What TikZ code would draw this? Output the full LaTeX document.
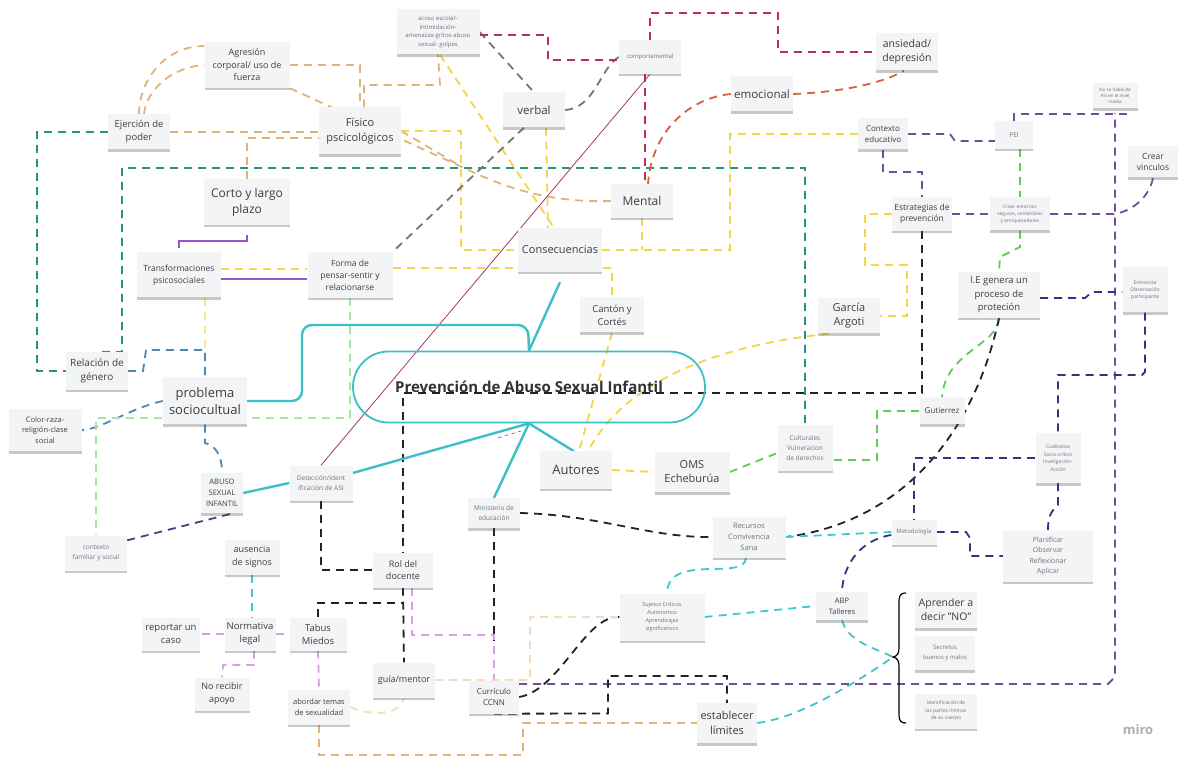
\documentclass[tikz,border=0pt]{standalone}
\usepackage{fontspec}
\setmainfont{Open Sans}
\usetikzlibrary{shadows}
\pgfdeclarelayer{back}
\pgfdeclarelayer{bgl}
\pgfsetlayers{back,bgl,main}
\definecolor{notefill}{RGB}{243,244,246}
\definecolor{txtc}{RGB}{62,62,66}
\definecolor{txtl}{RGB}{115,115,120}
\definecolor{tanC}{RGB}{224,180,120}
\definecolor{tealC}{RGB}{40,148,128}
\definecolor{grayC}{RGB}{118,118,118}
\definecolor{crimC}{RGB}{185,45,95}
\definecolor{orC}{RGB}{214,98,62}
\definecolor{yelC}{RGB}{242,214,70}
\definecolor{yelP}{RGB}{245,232,140}
\definecolor{purC}{RGB}{112,78,152}
\definecolor{grnC}{RGB}{95,205,85}
\definecolor{navC}{RGB}{42,55,130}
\definecolor{blkC}{RGB}{35,35,35}
\definecolor{cyaC}{RGB}{62,200,205}
\definecolor{stbC}{RGB}{72,138,180}
\definecolor{pgrC}{RGB}{165,228,165}
\definecolor{lilC}{RGB}{212,160,225}
\definecolor{pchC}{RGB}{246,218,190}
\definecolor{solpC}{RGB}{150,85,205}
\definecolor{brC}{RGB}{58,192,198}
\definecolor{thinC}{RGB}{165,55,100}
\definecolor{slateC}{RGB}{65,65,125}
\definecolor{titC}{RGB}{50,50,55}
\newcommand\fs[2]{\fontsize{#1}{#2}\selectfont}
\begin{document}
\begin{tikzpicture}[x=1pt,y=-1pt,
 stk/.style={fill=notefill, drop shadow={shadow xshift=0pt,shadow yshift=-2.5pt,opacity=0.3,fill=black!70}, align=center, inner sep=1pt, text=txtc},
 sz/.style 2 args={minimum width=#1, minimum height=#2},
 lt/.style={text=txtl},
 dsh/.style={dash pattern=on 8pt off 6pt, line width=1.8pt},
 tanD/.style={dsh, draw=tanC},
 yelD/.style={dsh, draw=yelC},
 yelPD/.style={dsh, draw=yelP},
 tealD/.style={dsh, draw=tealC},
 grayD/.style={dsh, draw=grayC},
 crimD/.style={dsh, draw=crimC},
 orD/.style={dsh, draw=orC},
 purD/.style={dsh, draw=purC},
 grnD/.style={dsh, draw=grnC},
 navD/.style={dsh, draw=navC},
 blkD/.style={dsh, draw=blkC},
 cyaD/.style={dsh, draw=cyaC},
 stbD/.style={dsh, draw=stbC},
 pgrD/.style={dsh, draw=pgrC},
 lilD/.style={dsh, draw=lilC},
 pchD/.style={dsh, draw=pchC},
 slateD/.style={dsh, draw=slateC},
 brS/.style={draw=brC, line width=2.4pt},
 solP/.style={draw=solpC, line width=1.6pt}
]
\begin{pgfonlayer}{back}
\fill[white] (0,0) rectangle (1179,759);
\end{pgfonlayer}
\useasboundingbox (0,0) rectangle (1179,759);

% ---------- nodes ----------
\node[draw=brC, line width=1.8pt, rounded corners=35.5pt, minimum width=352, minimum height=71, font=\bfseries\fs{15}{17}, text=titC] (main) at (529,387) {Prevención de Abuso Sexual Infantil};

\node[stk,sz={85}{46},font=\fs{9}{12.5}] (agr) at (247,65) {Agresión\\corporal/ uso de\\fuerza};
\node[stk,lt,sz={83}{45},font=\fs{6}{8.5}] (acoso) at (438,32) {acoso escolar-\\intimidación-\\amenazas-gritos-abuso\\sexual- golpes};
\node[stk,lt,sz={62}{34},font=\fs{6}{8}] (comp) at (650,57) {comportamental};
\node[stk,sz={62}{37},font=\fs{10.5}{14}] (ans) at (907,52) {ansiedad/\\depresión};
\node[stk,sz={62}{35},font=\fs{11.5}{14}] (verbal) at (534,110) {verbal};
\node[stk,sz={62}{35},font=\fs{11.5}{14}] (emo) at (762,94) {emocional};
\node[stk,sz={62}{35},font=\fs{9.5}{13}] (ejer) at (139,132) {Ejerción de\\poder};
\node[stk,sz={82}{47},font=\fs{11}{15}] (fis) at (360,131) {Físico\\pscicológicos};
\node[stk,sz={50}{31},font=\fs{8}{11}] (ctx) at (883,134) {Contexto\\educativo};
\node[stk,lt,sz={38}{28},font=\fs{6.5}{8}] (pei) at (1014,135) {PEI};
\node[stk,lt,sz={45}{25},font=\fs{4.5}{6}] (nose) at (1115,96) {No se habla de\\ASI en el nivel\\media};
\node[stk,sz={50}{31},font=\fs{8.5}{11.5}] (vinc) at (1153,162) {Crear\\vinculos};
\node[stk,sz={86}{46},font=\fs{12}{16}] (corto) at (247,202) {Corto y largo\\plazo};
\node[stk,sz={62}{34},font=\fs{12}{15}] (mental) at (642,201) {Mental};
\node[stk,sz={60}{34},font=\fs{8.5}{11.5}] (estr) at (922,214) {Estrategias de\\prevención};
\node[stk,lt,sz={60}{33},font=\fs{4.8}{7}] (entor) at (1020,214) {Crear entornos\\seguros, sostenibles\\y enriquecedores};
\node[stk,sz={84}{44},font=\fs{11}{14}] (cons) at (560,250) {Consecuencias};
\node[stk,sz={84}{45},font=\fs{8.5}{12}] (trans) at (179,275) {Transformaciones\\psicosociales};
\node[stk,sz={85}{46},font=\fs{8.5}{12}] (forma) at (350,275) {Forma de\\pensar-sentir y\\relacionarse};
\node[stk,sz={64}{35},font=\fs{9.5}{13}] (canton) at (612,315) {Cantón y\\Cortés};
\node[stk,sz={62}{35},font=\fs{11}{14}] (garcia) at (849,316) {García\\Argoti};
\node[stk,sz={82}{46},font=\fs{9.5}{13.5}] (ie) at (999,295) {I.E genera un\\proceso de\\proteción};
\node[stk,lt,sz={45}{45},font=\fs{5}{7}] (entrev) at (1145,290) {Entrevista\\Observación\\participante};
\node[stk,sz={62}{38},font=\fs{10}{13.5}] (rel) at (97,371) {Relación de\\género};
\node[stk,sz={84}{47},font=\fs{13}{17}] (prob) at (205,401) {problema\\sociocultual};
\node[stk,sz={73}{42},font=\fs{7.5}{10.5}] (color) at (45,430) {Color-raza-\\religión-clase\\social};
\node[stk,sz={42}{40},font=\fs{7.5}{11}] (abuso) at (222,493) {ABUSO\\SEXUAL\\INFANTIL};
\node[stk,lt,sz={63}{35},font=\fs{6.5}{10}] (detec) at (321,483) {Detección/Ident\\ificación de ASI};
\node[stk,lt,sz={55}{45},font=\fs{6.5}{10}] (cult) at (805,448) {Culturales\\Vulneracion\\de derechos};
\node[stk,sz={45}{27},font=\fs{8}{10}] (gut) at (942,411) {Gutierrez};
\node[stk,sz={72}{37},font=\fs{13}{16}] (autores) at (576,470) {Autores};
\node[stk,sz={75}{40},font=\fs{11}{14}] (oms) at (692,472) {OMS\\Echeburúa};
\node[stk,lt,sz={45}{50},font=\fs{5}{7.5}] (cuali) at (1058,458) {Cualitativa\\Socio-crítico\\Invetigación-\\Acción};
\node[stk,lt,sz={52}{30},font=\fs{6.5}{9.5}] (minis) at (494,513) {Ministerio de\\educación};
\node[stk,lt,sz={62}{35},font=\fs{6.5}{10}] (ctxfam) at (96,553) {contexto\\familiar y social};
\node[stk,lt,sz={73}{41},font=\fs{7.5}{11}] (recur) at (749,537) {Recursos\\Convivencia\\Sana};
\node[stk,lt,sz={45}{25},font=\fs{6}{8}] (metod) at (914,532) {Metodología};
\node[stk,lt,sz={90}{51},font=\fs{7}{10.5}] (plan) at (1048,556) {Planificar\\Observar\\Reflexionar\\Aplicar};
\node[stk,sz={55}{35},font=\fs{9}{12.5}] (ausen) at (252,557) {ausencia\\de signos};
\node[stk,sz={60}{35},font=\fs{9}{12.5}] (rol) at (403,570) {Rol del\\docente};
\node[stk,lt,sz={85}{47},font=\fs{5.5}{8}] (sujet) at (662,617) {Sujetos Críticos\\Autónomos\\Aprendizajes\\significativos};
\node[stk,sz={52}{28},font=\fs{7.5}{11}] (abp) at (842,606) {ABP\\Talleres};
\node[stk,sz={62}{36},font=\fs{10.5}{14}] (apren) at (946,610) {Aprender a\\decir "NO"};
\node[stk,lt,sz={60}{34},font=\fs{6}{9.5}] (secr) at (945,653) {Secretos\\buenos y malos};
\node[stk,sz={58}{33},font=\fs{9.5}{13}] (report) at (171,634) {reportar un\\caso};
\node[stk,sz={51}{33},font=\fs{9.5}{13}] (norm) at (250,634) {Normativa\\legal};
\node[stk,sz={57}{33},font=\fs{9.5}{13}] (tabus) at (318,634) {Tabus\\Miedos};
\node[stk,sz={55}{33},font=\fs{9}{13}] (norec) at (222,694) {No recibir\\apoyo};
\node[stk,sz={62}{35},font=\fs{9}{12}] (guia) at (404,680) {guía/mentor};
\node[stk,sz={62}{35},font=\fs{7.5}{11}] (aborda) at (319,707) {abordar temas\\de sexualidad};
\node[stk,sz={50}{33},font=\fs{8}{11.5}] (curr) at (494,697) {Currículo\\CCNN};
\node[stk,sz={60}{40},font=\fs{11}{14.5}] (estab) at (727,723) {establecer\\límites};
\node[stk,lt,sz={62}{35},font=\fs{5}{7.5}] (ident) at (946,711) {Identificación de\\las partes íntimas\\de su cuerpo};

\node[text=black!32, font=\bfseries\fs{13}{13}] (miro) at (1138,730) {miro};

\coordinate (bracetip) at (893,657);
\coordinate (pa) at (498,438);
\coordinate (pb) at (521,431);
\coordinate (conv) at (462,167);

% brace
\draw[black, line width=1.2pt] (906,593) .. controls (899,593) and (899,597) .. (899,605) -- (899,648) .. controls (899,654) and (897,656) .. (bracetip) .. controls (897,658) and (899,660) .. (899,666) -- (899,715) .. controls (899,721) and (901,723) .. (906,723);

% ---------- connectors ----------
\begin{pgfonlayer}{bgl}
% tan
\draw[tanD] (ejer.north) .. controls (139,80) and (165,46) .. (agr.west |- 0,46);
\draw[tanD] ([xshift=5pt]ejer.north) .. controls (146,90) and (172,67) .. (agr.west);
\draw[tanD] (agr.east) -| (fis.north);
\draw[tanD] ([xshift=4pt]fis.north) |- (440,85) -- (acoso.south);
\draw[tanD] (agr.south east) -- (conv) .. controls (505,188) and (550,203) .. (mental.west);
\draw[tanD] (fis.east) -- (conv);
\draw[tanD] (ejer.east) -- (fis.west |- ejer.east);
\draw[tanD] (corto.north) |- (fis.west |- 0,138);
\draw[tanD] (aborda.south) |- (523,755) |- (estab.west);
% yellow
\draw[yelD] (cons.east) -- (730,250) |- (ctx.west);
\draw[yelD] (mental.south) -- (mental.south |- cons.east);
\draw[yelD] (fis.east) -- (461,131) |- (cons.west);
\draw[yelD] ([xshift=12pt]verbal.south) -- ([xshift=-12pt]cons.north);
\draw[yelD] ([xshift=2pt]acoso.south) -- ([xshift=-6pt]cons.north);
\draw[yelD] (trans.east |- 0,269) -- (forma.west |- 0,269);
\draw[yelD] (forma.east |- 0,268) -| (canton.north);
\draw[yelD] (canton.south) -- ([xshift=3pt]autores.north);
\draw[yelD] ([xshift=-20pt]garcia.south) .. controls (720,345) and (625,380) .. ([xshift=12pt]autores.north);
\draw[yelPD] ([xshift=26pt]trans.south) -- (prob.north);
\draw[yelD] (autores.east) -- (oms.west);
\draw[yelD] (estr.west) -- (865,214) -- (865,265) -- (907,265) |- (garcia.east);
% teal
\draw[tealD] (ejer.west) -- (37,132) |- (rel.west);
\draw[tealD] ([xshift=5pt]rel.north) -- (122,352) -- (122,168) -| (cult.north);
% gray
\draw[grayD] (acoso.east) -- (verbal.north);
\draw[grayD] (verbal.east) .. controls (595,108) and (600,68) .. (comp.west);
\draw[grayD] ([xshift=-10pt]verbal.south) -- (forma.north east);
% crimson
\draw[crimD] ([yshift=-3pt]acoso.east) -- (548,35) |- ([yshift=-3pt]comp.west);
\draw[crimD] (comp.north) |- (778,13) |- (ans.west);
\draw[crimD] ([xshift=-5pt]comp.south) -- ([xshift=3pt]mental.north);
% orange
\draw[orD] (emo.west) .. controls (690,98) and (652,130) .. ([xshift=6pt]mental.north);
\draw[orD] (emo.east) .. controls (845,92) and (885,82) .. ([xshift=-3pt]ans.south);
% thin diagonal
\draw[thinC, line width=0.8pt] (detec.north) -- (comp.south);
% purple
\draw[purD] (ctx.east) -- (950,134) -- (955,141) -- (pei.west |- 0,141);
\draw[purD] (ctx.south) |- (922,172) -- (estr.north);
\draw[purD] (estr.east) -- (entor.west);
\draw[purD] (entor.east) -- (1115,214) .. controls (1135,210) and (1150,195) .. (vinc.south);
\draw[purD] (pei.north) |- ([xshift=-10pt,yshift=-5pt]nose.south east);
\draw[purD] ([yshift=13pt]curr.east) -- (1108,684) -- (1115,677) -- (1115,113);
\draw[purC, dash pattern=on 4pt off 3pt, line width=0.6pt] (pa) -- (pb);
% green
\draw[grnD] ([xshift=6pt]pei.south) -- (entor.north);
\draw[grnD] (entor.south) -- (1020,247) -- (1000,257) -- (ie.north);
\draw[grnD] (ie.south) .. controls (998,345) and (945,352) .. (gut.north);
\draw[grnD] (gut.west) -| (877,460) -- ([yshift=-12pt]cult.east);
\draw[grnD] (oms.east) -- ([yshift=-5pt]cult.west);
% black
\draw[blkD] (estr.south) |- (403,393) -- (rol.north);
\draw[blkD] (ie.south) .. controls (975,430) and (905,522) .. (recur.east);
\draw[blkD] (detec.south) |- (rol.west);
\draw[blkD] (rol.south) -- (guia.north);
\draw[blkD] (tabus.north) |- ([yshift=-15pt]rol.south);
\draw[blkD] (minis.east) .. controls (600,515) and (650,538) .. (recur.west);
\draw[blkD] (minis.south) -- ([yshift=40pt]curr.north);
\draw[blkD] (curr.east) .. controls (560,690) and (585,615) .. (sujet.west);
\draw[blkD] (curr.south) -- (608,713.5) |- (727,676) -- (estab.north);
% navy
\draw[navD] ([yshift=-3pt]ie.east) -- (1085,298) -- (1092,292) -- (entrev.west |- 0,292);
\draw[navD] (entrev.south) -- (1145,372) -- (1142,375) -| (cuali.north);
\draw[navD] (cuali.west) -| (metod.north);
\draw[navD] (cuali.south) -- (1058,505) .. controls (1050,512) and (1048,518) .. (plan.north);
\draw[navD] (metod.east) -- (966,532) -- (970,538) |- (plan.west);
\draw[navD] ([yshift=-3pt]metod.west) .. controls (860,540) and (843,565) .. (abp.north);
\draw[slateD] ([yshift=-5pt]ctxfam.north east) -- ([xshift=-10pt]abuso.south east);
% cyan
\draw[cyaD] (recur.east) -- (metod.west);
\draw[cyaD] ([xshift=-3pt]recur.south) .. controls (745,582) and (668,552) .. ([xshift=5pt]sujet.north);
\draw[cyaD] (sujet.east) -- (abp.west);
\draw[cyaD] (abp.south) .. controls (848,642) and (875,648) .. (bracetip);
\draw[cyaD] (estab.east) .. controls (800,718) and (860,680) .. (bracetip);
\draw[cyaD] (ausen.south) -- (ausen.south |- norm.north);
% steel blue
\draw[stbD] (rel.east) -- (143,371) -- (146,350) -| (prob.north);
\draw[stbD] (prob.west) .. controls (130,408) and (100,430) .. (color.east);
\draw[stbD] (prob.south) -- (205,443) .. controls (213,445) and (222,452) .. (abuso.north);
% pale green
\draw[pgrD] (forma.south) |- (96,418) -- (ctxfam.north);
% lilac
\draw[lilD] (norm.west) -- (report.east);
\draw[lilD] (norm.east) -- (tabus.west);
\draw[lilD] ([xshift=4pt]norm.south) |- (223,665) -- (norec.north);
\draw[lilD] (tabus.south) -- (aborda.north);
\draw[lilD] ([xshift=9pt]rol.south) |- (494,635) -- (curr.north);
% peach
\draw[pchD] (guia.east) -| (530,617) -- (sujet.west);
\draw[pchD] (aborda.east) .. controls (370,716) and (400,716) .. (guia.south);
% solid purple
\draw[solP] ([yshift=-10pt]corto.south) |- (179,241) -- ([yshift=4pt]trans.north);
\draw[solP] (trans.east |- 0,279) -- (forma.west |- 0,279);
% main branches
\draw[brS] ([yshift=-10pt]cons.south) -- (main.north);
\draw[brS, rounded corners=10pt] (main.north) -- (528,325) -- (302,325) -- (302,401) -- (prob.east);
\draw[brS] (main.south) -- ([yshift=10pt]detec.east);
\draw[brS] (abuso.east) -- (detec.west);
\draw[brS] (main.south) -- (minis.north);
\draw[brS] (main.south) -- ([xshift=-2pt]autores.north);
\end{pgfonlayer}
\end{tikzpicture}
\end{document}
